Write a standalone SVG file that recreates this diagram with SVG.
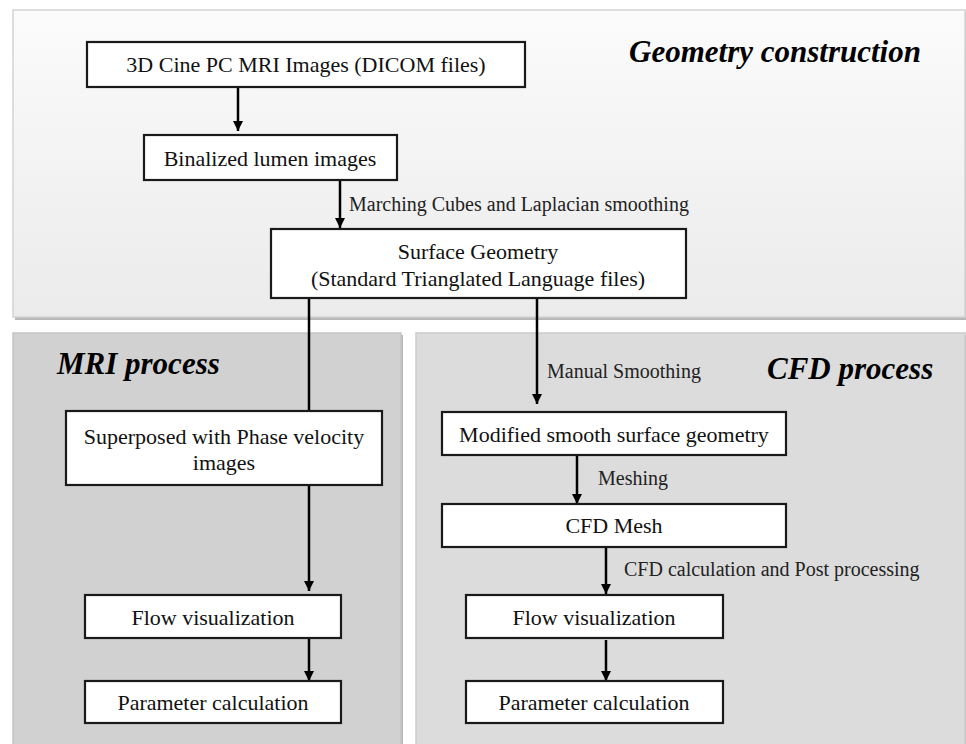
<svg xmlns="http://www.w3.org/2000/svg" width="966" height="744" viewBox="0 0 966 744">
<defs>
<linearGradient id="gTop" x1="0" y1="0" x2="0" y2="1">
<stop offset="0" stop-color="#fbfbfb"/>
<stop offset="1" stop-color="#ebebeb"/>
</linearGradient>
<marker id="arr" viewBox="0 0 10 10" refX="10" refY="5" markerWidth="4" markerHeight="4" markerUnits="strokeWidth" orient="auto">
<path d="M0,0 L10,5 L0,10 Z" fill="#000"/>
</marker>
<style>
.box{fill:#fff;stroke:#1a1a1a;stroke-width:2.2}
.t{font-family:"Liberation Serif","Times New Roman",serif;font-size:22px;fill:#111;text-anchor:middle}
.lbl{font-family:"Liberation Serif","Times New Roman",serif;font-size:20px;fill:#222}
.title{font-family:"Liberation Serif","Times New Roman",serif;font-size:31px;font-weight:bold;font-style:italic;fill:#000}
.conn line{stroke:#000;stroke-width:2.5}
.shadow{fill:#b8b8b8}
</style>
</defs>
<rect width="966" height="744" fill="#fff"/>
<!-- panels -->
<g id="panel-geometry">
<rect class="shadow" x="15" y="12" width="952" height="308"/>
<rect x="13" y="10" width="952" height="307" fill="url(#gTop)" stroke="#d4d4d4" stroke-width="1.5"/>
<text class="title" x="629" y="62">Geometry construction</text>
</g>
<g id="panel-mri">
<rect class="shadow" x="15" y="335" width="388" height="412"/>
<rect x="13" y="333" width="388" height="414" fill="#d1d1d1" stroke="#c4c4c4" stroke-width="1.5"/>
<text class="title" x="57" y="374">MRI process</text>
</g>
<g id="panel-cfd">
<rect class="shadow" x="418" y="335" width="550" height="412"/>
<rect x="416" y="333" width="549" height="414" fill="#dcdcdc" stroke="#cccccc" stroke-width="1.5"/>
<text class="title" x="767" y="379">CFD process</text>
</g>
<!-- connectors -->
<g id="connectors" class="conn">
<line x1="238" y1="88" x2="238" y2="131" marker-end="url(#arr)"/>
<line x1="340" y1="181" x2="340" y2="228" marker-end="url(#arr)"/>
<line x1="309" y1="298" x2="309" y2="411"/>
<line x1="309" y1="485" x2="309" y2="591" marker-end="url(#arr)"/>
<line x1="309" y1="638" x2="309" y2="681" marker-end="url(#arr)"/>
<line x1="537" y1="298" x2="537" y2="404" marker-end="url(#arr)"/>
<line x1="577" y1="455" x2="577" y2="504" marker-end="url(#arr)"/>
<line x1="606" y1="547" x2="606" y2="594" marker-end="url(#arr)"/>
<line x1="606" y1="640" x2="606" y2="681" marker-end="url(#arr)"/>
</g>
<g id="connector-labels">
<text class="lbl" x="349" y="211">Marching Cubes and Laplacian smoothing</text>
<text class="lbl" x="547" y="378">Manual Smoothing</text>
<text class="lbl" x="598" y="485">Meshing</text>
<text class="lbl" x="624" y="576">CFD calculation and Post processing</text>
</g>
<!-- nodes -->
<g id="n-dicom">
<rect class="box" x="87" y="42" width="438" height="45"/>
<text class="t" x="306" y="72">3D Cine PC MRI Images (DICOM files)</text>
</g>
<g id="n-binalized">
<rect class="box" x="144" y="135" width="253" height="45"/>
<text class="t" x="270" y="166">Binalized lumen images</text>
</g>
<g id="n-surface">
<rect class="box" x="271" y="229" width="415" height="69"/>
<text class="t" x="478" y="259">Surface Geometry</text>
<text class="t" x="478" y="286">(Standard Trianglated Language files)</text>
</g>
<g id="n-superposed">
<rect class="box" x="66" y="411" width="316" height="74"/>
<text class="t" x="224" y="444">Superposed with Phase velocity</text>
<text class="t" x="224" y="470">images</text>
</g>
<g id="n-mri-flow">
<rect class="box" x="85" y="595" width="256" height="43"/>
<text class="t" x="213" y="625">Flow visualization</text>
</g>
<g id="n-mri-param">
<rect class="box" x="85" y="681" width="256" height="42"/>
<text class="t" x="213" y="710">Parameter calculation</text>
</g>
<g id="n-modified">
<rect class="box" x="442" y="412" width="344" height="43"/>
<text class="t" x="614" y="442">Modified smooth surface geometry</text>
</g>
<g id="n-mesh">
<rect class="box" x="442" y="504" width="344" height="43"/>
<text class="t" x="614" y="533">CFD Mesh</text>
</g>
<g id="n-cfd-flow">
<rect class="box" x="466" y="595" width="257" height="43"/>
<text class="t" x="594" y="625">Flow visualization</text>
</g>
<g id="n-cfd-param">
<rect class="box" x="466" y="681" width="257" height="42"/>
<text class="t" x="594" y="710">Parameter calculation</text>
</g>
</svg>
